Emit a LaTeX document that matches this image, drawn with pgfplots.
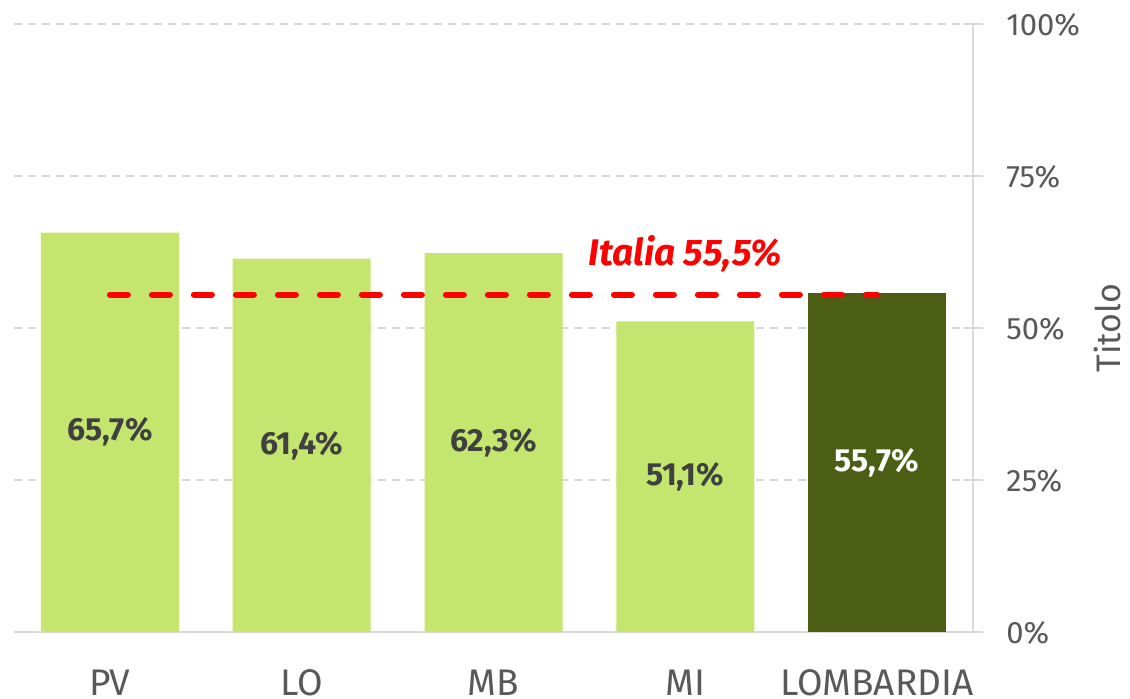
\documentclass[border=0pt]{standalone}
\usepackage{pgfplots}
\pgfplotsset{compat=1.18}
\usepackage{fontspec}
\setmainfont{Fira Sans}
\usetikzlibrary{calc}
\definecolor{lgreen}{RGB}{197,230,110}
\definecolor{dgreen}{RGB}{75,94,19}
\definecolor{axgray}{RGB}{217,217,217}
\definecolor{txtgray}{RGB}{89,89,89}
\definecolor{lblgray}{RGB}{64,64,64}
\begin{document}
\begin{tikzpicture}
\begin{axis}[
  scale only axis, width=479.5pt, height=304pt,
  xmin=-0.5, xmax=4.5, ymin=0, ymax=100,
  axis x line=bottom, axis y line=right,
  axis line style={-, draw=axgray, line width=1pt},
  xtick={0,1,2,3,4}, xticklabels={PV,LO,MB,MI,LOMBARDIA},
  x tick style={draw=none},
  xticklabel style={anchor=base, yshift=-26.5pt, inner sep=0pt, font=\fontsize{18.5}{21}\selectfont, text=txtgray},
  ytick={0,25,50,75,100}, yticklabels={0\%,25\%,50\%,75\%,100\%},
  y tick style={draw=axgray, line width=1pt},
  tick align=center, major tick length=10pt,
  yticklabel style={anchor=base west, inner sep=0pt, xshift=11.5pt, yshift=-5.5pt, font=\fontsize{15.5}{18}\selectfont, text=txtgray},
  ymajorgrids, grid style={draw=axgray, line width=0.75pt, dash pattern=on 4pt off 3pt},
  ylabel={Titolo},
  ylabel style={at={(axis description cs:1.1543,0.5)}, anchor=base, font=\fontsize{17}{20}\selectfont, text=txtgray},
  /pgf/number format/assume math mode=true,
  clip=false,
]
\addplot[ybar, bar width=69pt, bar shift=0pt, fill=lgreen, draw=none] coordinates {(0,65.7) (1,61.4) (2,62.3) (3,51.1)};
\addplot[ybar, bar width=69pt, bar shift=0pt, fill=dgreen, draw=none] coordinates {(4,55.7)};
\addplot[draw=none, nodes near coords, point meta=explicit symbolic,
  every node near coord/.style={anchor=center, font=\bfseries\fontsize{16}{19}\selectfont, text=lblgray}]
  coordinates {(0,32.85) [65,7\%] (1,30.7) [61,4\%] (2,31.15) [62,3\%] (3,25.55) [51,1\%]};
\addplot[draw=none, nodes near coords, point meta=explicit symbolic,
  every node near coord/.style={anchor=center, font=\bfseries\fontsize{16}{19}\selectfont, text=white}]
  coordinates {(4,27.85) [55,7\%]};
\addplot[red, line width=3pt, dash pattern=on 9pt off 12pt, line cap=round] coordinates {(0,55.5) (4,55.5)};
\node[text=red, font=\bfseries\itshape\fontsize{18.5}{22}\selectfont] at (axis cs:3,62.2) {Italia 55,5\%};
\end{axis}
\pgfresetboundingbox
\path ($(current axis.south west)+(-7pt,-33pt)$) rectangle ($(current axis.south west)+(558pt,316pt)$);
\end{tikzpicture}
\end{document}
